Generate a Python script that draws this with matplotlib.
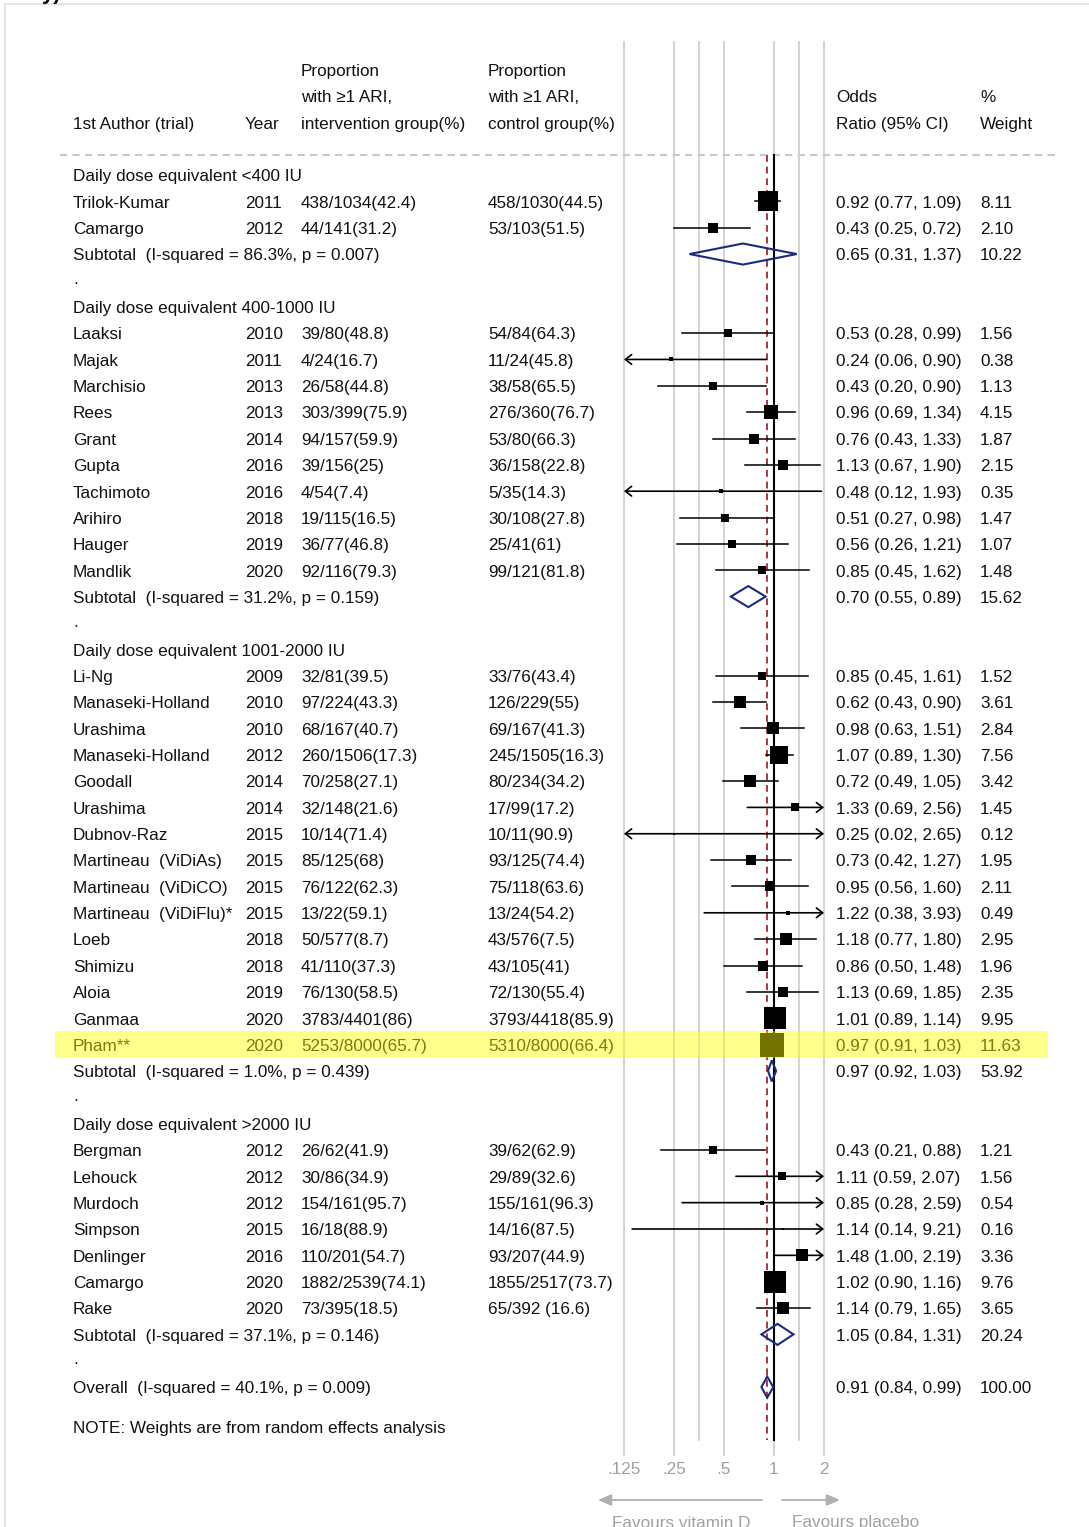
import numpy as np
import matplotlib.pyplot as plt
from matplotlib.patches import Rectangle, Polygon

plt.rcParams['font.family'] = ['Liberation Sans', 'DejaVu Sans']

# ---- data ----
group_titles = ["Daily dose equivalent <400 IU", "Daily dose equivalent 400-1000 IU",
                "Daily dose equivalent 1001-2000 IU", "Daily dose equivalent >2000 IU"]
group_sizes = [2, 10, 15, 7]

authors = ["Trilok-Kumar", "Camargo",
           "Laaksi", "Majak", "Marchisio", "Rees", "Grant", "Gupta", "Tachimoto",
           "Arihiro", "Hauger", "Mandlik",
           "Li-Ng", "Manaseki-Holland", "Urashima", "Manaseki-Holland", "Goodall",
           "Urashima", "Dubnov-Raz", "Martineau  (ViDiAs)", "Martineau  (ViDiCO)",
           "Martineau  (ViDiFlu)*", "Loeb", "Shimizu", "Aloia", "Ganmaa", "Pham**",
           "Bergman", "Lehouck", "Murdoch", "Simpson", "Denlinger", "Camargo", "Rake"]
years = ["2011", "2012",
         "2010", "2011", "2013", "2013", "2014", "2016", "2016", "2018", "2019", "2020",
         "2009", "2010", "2010", "2012", "2014", "2014", "2015", "2015", "2015", "2015",
         "2018", "2018", "2019", "2020", "2020",
         "2012", "2012", "2012", "2015", "2016", "2020", "2020"]
interv = ["438/1034(42.4)", "44/141(31.2)",
          "39/80(48.8)", "4/24(16.7)", "26/58(44.8)", "303/399(75.9)", "94/157(59.9)",
          "39/156(25)", "4/54(7.4)", "19/115(16.5)", "36/77(46.8)", "92/116(79.3)",
          "32/81(39.5)", "97/224(43.3)", "68/167(40.7)", "260/1506(17.3)", "70/258(27.1)",
          "32/148(21.6)", "10/14(71.4)", "85/125(68)", "76/122(62.3)", "13/22(59.1)",
          "50/577(8.7)", "41/110(37.3)", "76/130(58.5)", "3783/4401(86)", "5253/8000(65.7)",
          "26/62(41.9)", "30/86(34.9)", "154/161(95.7)", "16/18(88.9)", "110/201(54.7)",
          "1882/2539(74.1)", "73/395(18.5)"]
control = ["458/1030(44.5)", "53/103(51.5)",
           "54/84(64.3)", "11/24(45.8)", "38/58(65.5)", "276/360(76.7)", "53/80(66.3)",
           "36/158(22.8)", "5/35(14.3)", "30/108(27.8)", "25/41(61)", "99/121(81.8)",
           "33/76(43.4)", "126/229(55)", "69/167(41.3)", "245/1505(16.3)", "80/234(34.2)",
           "17/99(17.2)", "10/11(90.9)", "93/125(74.4)", "75/118(63.6)", "13/24(54.2)",
           "43/576(7.5)", "43/105(41)", "72/130(55.4)", "3793/4418(85.9)", "5310/8000(66.4)",
           "39/62(62.9)", "29/89(32.6)", "155/161(96.3)", "14/16(87.5)", "93/207(44.9)",
           "1855/2517(73.7)", "65/392 (16.6)"]
odds = [0.92, 0.43,
        0.53, 0.24, 0.43, 0.96, 0.76, 1.13, 0.48, 0.51, 0.56, 0.85,
        0.85, 0.62, 0.98, 1.07, 0.72, 1.33, 0.25, 0.73, 0.95, 1.22, 1.18, 0.86, 1.13, 1.01, 0.97,
        0.43, 1.11, 0.85, 1.14, 1.48, 1.02, 1.14]
lower = [0.77, 0.25,
         0.28, 0.06, 0.20, 0.69, 0.43, 0.67, 0.12, 0.27, 0.26, 0.45,
         0.45, 0.43, 0.63, 0.89, 0.49, 0.69, 0.02, 0.42, 0.56, 0.38, 0.77, 0.50, 0.69, 0.89, 0.91,
         0.21, 0.59, 0.28, 0.14, 1.00, 0.90, 0.79]
upper = [1.09, 0.72,
         0.99, 0.90, 0.90, 1.34, 1.33, 1.90, 1.93, 0.98, 1.21, 1.62,
         1.61, 0.90, 1.51, 1.30, 1.05, 2.56, 2.65, 1.27, 1.60, 3.93, 1.80, 1.48, 1.85, 1.14, 1.03,
         0.88, 2.07, 2.59, 9.21, 2.19, 1.16, 1.65]
weights = [8.11, 2.10,
           1.56, 0.38, 1.13, 4.15, 1.87, 2.15, 0.35, 1.47, 1.07, 1.48,
           1.52, 3.61, 2.84, 7.56, 3.42, 1.45, 0.12, 1.95, 2.11, 0.49, 2.95, 1.96, 2.35, 9.95, 11.63,
           1.21, 1.56, 0.54, 0.16, 3.36, 9.76, 3.65]

sub_labels = ["Subtotal  (I-squared = 86.3%, p = 0.007)", "Subtotal  (I-squared = 31.2%, p = 0.159)",
              "Subtotal  (I-squared = 1.0%, p = 0.439)", "Subtotal  (I-squared = 37.1%, p = 0.146)"]
sub_or = [0.65, 0.70, 0.97, 1.05]
sub_lo = [0.31, 0.55, 0.92, 0.84]
sub_hi = [1.37, 0.89, 1.03, 1.31]
sub_wt = [10.22, 15.62, 53.92, 20.24]

overall_label = "Overall  (I-squared = 40.1%, p = 0.009)"
overall_or, overall_lo, overall_hi, overall_wt = 0.91, 0.84, 0.99, 100.00
highlight_author = "Pham**"

tick_vals = [0.125, 0.25, 0.5, 1, 2]
tick_labels = [".125", ".25", ".5", "1", "2"]
mid_grid = [0.3536, 1.4142]

# ---- layout ----
W, H = 1089, 1527
Y0, STEP = 175, 26.35


def prow(py):
    return (py - Y0) / STEP


FS = 12.3
TXT = '#111111'
DY = 0.07  # small downward nudge of text so it sits on the row centre
fig = plt.figure(figsize=(W / 100, H / 100), dpi=100)
ax = fig.add_axes([0, 0, 1, 1])
ax.set_xlim(0, W)
ax.set_ylim(prow(H), prow(0))
ax.axis('off')

fx = fig.add_axes([624 / W, 0, 200 / W, 1])
fx.set_xscale('log', base=2)
fx.set_xlim(0.125, 2)
fx.set_ylim(prow(H), prow(0))
fx.axis('off')


def put(x, row, s, **kw):
    ax.text(x, row + DY, s, va='center', fontsize=FS, color=TXT, **kw)


# frame remnants (cropped page)
ax.plot([5, 5], [prow(4), prow(H)], color='#e0e0e0', lw=1.2)
ax.plot([5, W], [prow(4), prow(4)], color='#e0e0e0', lw=1.2)
ax.text(42, prow(-1), "y)", fontsize=16, fontweight='bold', color='#111111', va='baseline')

# header
cols = [73, 245, 301, 488, 836, 980]
put(cols[0], -2, "1st Author (trial)")
put(cols[1], -2, "Year")
for i, s in enumerate(["Proportion", "with \u22651 ARI,", "intervention group(%)"]):
    put(cols[2], -4 + i, s)
for i, s in enumerate(["Proportion", "with \u22651 ARI,", "control group(%)"]):
    put(cols[3], -4 + i, s)
put(cols[4], -3, "Odds")
put(cols[4], -2, "Ratio (95% CI)")
put(cols[5], -3, "%")
put(cols[5], -2, "Weight")
ax.plot([60, 1055], [prow(155)] * 2, color='#c8c8c8', lw=1.5, ls=(0, (3.5, 2.5)))

# gridlines
top_g = prow(42)
for v in tick_vals:
    fx.plot([v, v], [top_g, prow(1455)], color='#cccccc', lw=1.2, clip_on=False, zorder=1)
for v in mid_grid:
    fx.plot([v, v], [top_g, prow(1440)], color='#cccccc', lw=1.2, clip_on=False, zorder=1)
fx.plot([1, 1], [prow(155), prow(1440)], color='black', lw=1.5, zorder=2)
fx.plot([overall_or] * 2, [prow(155), prow(1440)], color='#a8393f', lw=1.4,
        ls=(0, (3.5, 2.5)), zorder=2)


def fmt_ci(o, l, h):
    return f"{o:.2f} ({l:.2f}, {h:.2f})"


def diamond(row, o, l, h):
    fx.add_patch(Polygon([(l, row), (o, row - 0.4), (h, row), (o, row + 0.4)],
                         closed=True, fill=False, edgecolor='#1c2a7e', lw=1.5,
                         zorder=4, clip_on=False))


xmin, xmax = fx.get_xlim()
r = 0
k = 0
highlight_row = None
for g, n in enumerate(group_sizes):
    put(cols[0], r, group_titles[g])
    r += 1
    for _ in range(n):
        put(cols[0], r, authors[k])
        put(cols[1], r, years[k])
        put(cols[2], r, interv[k])
        put(cols[3], r, control[k])
        put(cols[4], r, fmt_ci(odds[k], lower[k], upper[k]))
        put(cols[5], r, f"{weights[k]:.2f}")
        if authors[k] == highlight_author:
            highlight_row = r
        lo, hi = lower[k], upper[k]
        la, ra = lo < xmin, hi > xmax
        lo_c, hi_c = max(lo, xmin), min(hi, xmax)
        if la or ra:
            if la and ra:
                st, a, b = '<->', hi_c, lo_c
            elif la:
                st, a, b = '->', lo_c, hi_c
            else:
                st, a, b = '->', hi_c, lo_c
            fx.annotate('', xy=(a, r), xytext=(b, r),
                        arrowprops=dict(arrowstyle=st + ',head_length=0.45,head_width=0.35',
                                        color='black', lw=1.2, shrinkA=0, shrinkB=0),
                        zorder=3)
        else:
            fx.plot([lo_c, hi_c], [r, r], color='black', lw=1.1, zorder=3)
        side = 6.8 * np.sqrt(weights[k]) * 0.72
        fx.plot(odds[k], r, marker='s', ms=side, color='black', mec='black', mew=0, zorder=3)
        r += 1
        k += 1
    put(cols[0], r, sub_labels[g])
    put(cols[4], r, fmt_ci(sub_or[g], sub_lo[g], sub_hi[g]))
    put(cols[5], r, f"{sub_wt[g]:.2f}")
    diamond(r, sub_or[g], sub_lo[g], sub_hi[g])
    r += 1
    put(cols[0], r - 0.1, ".")
    r += 1

put(cols[0], r, overall_label)
put(cols[4], r, fmt_ci(overall_or, overall_lo, overall_hi))
put(cols[5], r, f"{overall_wt:.2f}")
diamond(r, overall_or, overall_lo, overall_hi)
put(cols[0], r + 1.52, "NOTE: Weights are from random effects analysis")

# axis tick labels and direction arrows
for v, s in zip(tick_vals, tick_labels):
    fx.text(v, prow(1470), s, ha='center', va='center', fontsize=FS, color='#a0a0a0', clip_on=False)
ax.annotate('', xy=(598, prow(1500)), xytext=(762, prow(1500)),
            arrowprops=dict(arrowstyle='-|>,head_length=0.8,head_width=0.35', color='#b0b0b0',
                            lw=1.3, shrinkA=0, shrinkB=0))
ax.annotate('', xy=(840, prow(1500)), xytext=(782, prow(1500)),
            arrowprops=dict(arrowstyle='-|>,head_length=0.8,head_width=0.35', color='#b0b0b0',
                            lw=1.3, shrinkA=0, shrinkB=0))
ax.text(612, prow(1523), "Favours vitamin D", va='center', fontsize=FS, color='#a0a0a0')
ax.text(792, prow(1523), "Favours placebo", va='center', fontsize=FS, color='#a0a0a0')

# highlight band over the Pham row
if highlight_row is not None:
    band = Rectangle((55, highlight_row - 0.52), 993, 1.04, transform=ax.transData,
                     facecolor='#ffff00', alpha=0.45, edgecolor='none', zorder=10)
    fig.add_artist(band)

fig.savefig("out.png", dpi=100)
